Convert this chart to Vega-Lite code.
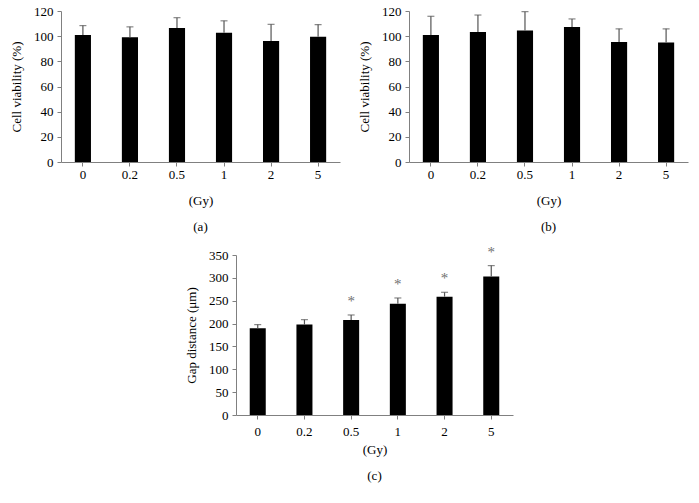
{
  "$schema": "https://vega.github.io/schema/vega-lite/v6.json",
  "background": "white",
  "padding": {"left": 10, "top": 5, "right": 5, "bottom": 5},
  "config": {
    "view": {"stroke": null},
    "axis": {
      "labelFont": "Liberation Serif", "titleFont": "Liberation Serif",
      "labelFontSize": 13, "titleFontSize": 13, "titleFontWeight": "normal",
      "domainColor": "#808080", "tickColor": "#808080",
      "labelColor": "black", "titleColor": "black",
      "grid": false, "tickSize": 4, "labelPadding": 4, "labelOverlap": false
    },
    "title": {"font": "Liberation Serif", "fontSize": 13, "fontWeight": "normal", "orient": "bottom", "anchor": "middle", "color": "black"}
  },
  "datasets": {
    "a": [
      {"dose": "0", "mean": 100.9, "upper": 108.4},
      {"dose": "0.2", "mean": 99.1, "upper": 107.4},
      {"dose": "0.5", "mean": 106.5, "upper": 114.7},
      {"dose": "1", "mean": 102.8, "upper": 112.2},
      {"dose": "2", "mean": 96.1, "upper": 109.4},
      {"dose": "5", "mean": 99.6, "upper": 109.2}
    ],
    "b": [
      {"dose": "0", "mean": 101.0, "upper": 115.8},
      {"dose": "0.2", "mean": 103.4, "upper": 116.8},
      {"dose": "0.5", "mean": 104.5, "upper": 119.5},
      {"dose": "1", "mean": 107.3, "upper": 113.7},
      {"dose": "2", "mean": 95.4, "upper": 105.8},
      {"dose": "5", "mean": 94.9, "upper": 105.8}
    ],
    "c": [
      {"dose": "0", "mean": 189.6, "upper": 197.7, "sig": ""},
      {"dose": "0.2", "mean": 197.7, "upper": 208.6, "sig": ""},
      {"dose": "0.5", "mean": 208.0, "upper": 218.8, "sig": "*"},
      {"dose": "1", "mean": 243.6, "upper": 256.0, "sig": "*"},
      {"dose": "2", "mean": 258.9, "upper": 268.4, "sig": "*"},
      {"dose": "5", "mean": 302.7, "upper": 326.8, "sig": "*"}
    ]
  },
  "center": true,
  "spacing": 10,
  "vconcat": [
    {
      "spacing": 18,
      "hconcat": [
        {
          "width": 279, "height": 151,
          "title": {"text": "(a)", "offset": 14},
          "data": {"name": "a"},
          "encoding": {
            "x": {"field": "dose", "type": "ordinal", "sort": null,
                  "scale": {"paddingInner": 0.657, "paddingOuter": 0.294},
                  "axis": {"title": "(Gy)", "labelAngle": 0, "labelPadding": 2, "titlePadding": 13}}
          },
          "layer": [
            {"mark": {"type": "bar", "color": "black"},
             "encoding": {"y": {"field": "mean", "type": "quantitative",
                                "scale": {"domain": [0, 120], "nice": false},
                                "axis": {"title": "Cell viability (%)", "values": [0, 20, 40, 60, 80, 100, 120], "labelOverlap": false, "titlePadding": 10}}}},
            {"mark": {"type": "rule", "color": "#555555", "strokeWidth": 1.2},
             "encoding": {"y": {"field": "mean", "type": "quantitative",
                                "axis": {"title": "Cell viability (%)", "values": [0, 20, 40, 60, 80, 100, 120], "labelOverlap": false, "titlePadding": 10}}, "y2": {"field": "upper"}}},
            {"mark": {"type": "tick", "color": "#555555", "thickness": 1.2, "size": 7},
             "encoding": {"y": {"field": "upper", "type": "quantitative",
                                "axis": {"title": "Cell viability (%)", "values": [0, 20, 40, 60, 80, 100, 120], "labelOverlap": false, "titlePadding": 10}}}}
          ]
        },
        {
          "width": 279, "height": 151,
          "title": {"text": "(b)", "offset": 14},
          "data": {"name": "b"},
          "encoding": {
            "x": {"field": "dose", "type": "ordinal", "sort": null,
                  "scale": {"paddingInner": 0.657, "paddingOuter": 0.294},
                  "axis": {"title": "(Gy)", "labelAngle": 0, "labelPadding": 2, "titlePadding": 13}}
          },
          "layer": [
            {"mark": {"type": "bar", "color": "black"},
             "encoding": {"y": {"field": "mean", "type": "quantitative",
                                "scale": {"domain": [0, 120], "nice": false},
                                "axis": {"title": "Cell viability (%)", "values": [0, 20, 40, 60, 80, 100, 120], "labelOverlap": false, "titlePadding": 10}}}},
            {"mark": {"type": "rule", "color": "#555555", "strokeWidth": 1.2},
             "encoding": {"y": {"field": "mean", "type": "quantitative",
                                "axis": {"title": "Cell viability (%)", "values": [0, 20, 40, 60, 80, 100, 120], "labelOverlap": false, "titlePadding": 10}}, "y2": {"field": "upper"}}},
            {"mark": {"type": "tick", "color": "#555555", "thickness": 1.2, "size": 7},
             "encoding": {"y": {"field": "upper", "type": "quantitative",
                                "axis": {"title": "Cell viability (%)", "values": [0, 20, 40, 60, 80, 100, 120], "labelOverlap": false, "titlePadding": 10}}}}
          ]
        }
      ]
    },
    {
      "width": 277, "height": 160,
      "title": {"text": "(c)", "offset": 14},
      "data": {"name": "c"},
      "encoding": {
        "x": {"field": "dose", "type": "ordinal", "sort": null,
              "scale": {"paddingInner": 0.657, "paddingOuter": 0.294},
              "axis": {"title": "(Gy)", "labelAngle": 0, "titlePadding": 5, "labelPadding": 6}}
      },
      "layer": [
        {"mark": {"type": "bar", "color": "black"},
         "encoding": {"y": {"field": "mean", "type": "quantitative",
                            "scale": {"domain": [0, 350], "nice": false},
                            "axis": {"title": "Gap distance (μm)", "values": [0, 50, 100, 150, 200, 250, 300, 350], "labelOverlap": false, "titlePadding": 10}}}},
        {"mark": {"type": "rule", "color": "#555555", "strokeWidth": 1.2},
         "encoding": {"y": {"field": "mean", "type": "quantitative",
                            "axis": {"title": "Gap distance (μm)", "values": [0, 50, 100, 150, 200, 250, 300, 350], "labelOverlap": false, "titlePadding": 10}}, "y2": {"field": "upper"}}},
        {"mark": {"type": "tick", "color": "#555555", "thickness": 1.2, "size": 7},
         "encoding": {"y": {"field": "upper", "type": "quantitative",
                            "axis": {"title": "Gap distance (μm)", "values": [0, 50, 100, 150, 200, 250, 300, 350], "labelOverlap": false, "titlePadding": 10}}}},
        {"mark": {"type": "text", "color": "#707070", "font": "Liberation Serif", "fontSize": 15, "baseline": "middle", "dy": -14},
         "encoding": {"y": {"field": "upper", "type": "quantitative",
                            "axis": {"title": "Gap distance (μm)", "values": [0, 50, 100, 150, 200, 250, 300, 350], "labelOverlap": false, "titlePadding": 10}}, "text": {"field": "sig"}}}
      ]
    }
  ]
}
